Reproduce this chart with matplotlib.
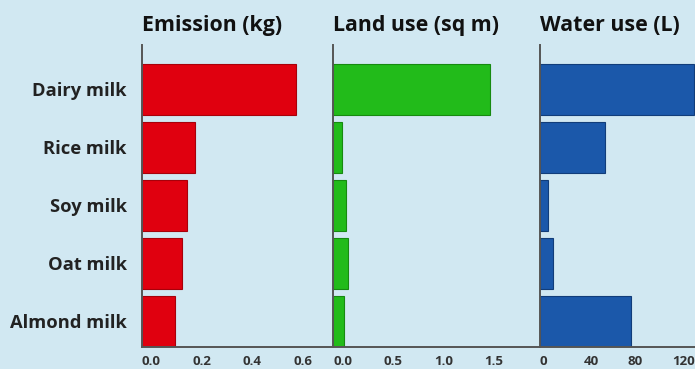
import matplotlib
matplotlib.use("Agg")
import matplotlib.pyplot as plt

# Environmental footprint of one glass of milk
categories = ["Dairy milk", "Rice milk", "Soy milk", "Oat milk", "Almond milk"]
emission_kg = [0.61, 0.21, 0.18, 0.16, 0.13]
land_sqm = [1.55, 0.09, 0.13, 0.15, 0.11]
water_l = [140, 59, 7, 12, 83]

titles = ["Emission (kg)", "Land use (sq m)", "Water use (L)"]
emission_ticks = [0.0, 0.2, 0.4, 0.6]
land_ticks = [0.0, 0.5, 1.0, 1.5]
water_ticks = [0, 40, 80, 120]
emission_ticklabels = ["0.0", "0.2", "0.4", "0.6"]
land_ticklabels = ["0.0", "0.5", "1.0", "1.5"]
water_ticklabels = ["0", "40", "80", "120"]

BG = "#d1e8f2"
FONT = ["Open Sans", "DejaVu Sans"]
W, H = 695, 369

fig = plt.figure(figsize=(W / 100, H / 100), dpi=100, facecolor=BG)

# panel edges in pixels (left, right)
panels = [(142, 333), (333, 540), (540, 695)]
top_px, bottom_px = 45, 346.7

series = [
    (emission_kg, "#e0000f", "#a8000a", emission_ticks, emission_ticklabels, 0.758),
    (land_sqm, "#22bb1a", "#178a10", land_ticks, land_ticklabels, 2.05),
    (water_l, "#1b58aa", "#113d7a", water_ticks, water_ticklabels, 141),
]

ypos = list(range(len(categories)))[::-1]

for i, ((l, r), (vals, col, ecol, ticks, tlabels, xmax)) in enumerate(zip(panels, series)):
    ax = fig.add_axes([l / W, (H - bottom_px) / H, (r - l) / W, (bottom_px - top_px) / H])
    ax.set_facecolor("none")
    ax.barh(ypos, vals, height=0.88, color=col, edgecolor=ecol, linewidth=0.8, zorder=2)
    ax.set_xlim(0, xmax)
    ax.set_ylim(-0.44, 4.76)
    for s in ["top", "right"]:
        ax.spines[s].set_visible(False)
    for s in ["left", "bottom"]:
        ax.spines[s].set_color("#555555")
        ax.spines[s].set_linewidth(1.4)
        ax.spines[s].set_zorder(3)
    ax.set_xticks(ticks)
    ax.set_xticklabels(tlabels, fontsize=9.5, fontweight="bold", color="#333333", family=FONT)
    for lab in ax.get_xticklabels():
        lab.set_horizontalalignment("left")
    ax.tick_params(axis="x", length=0, pad=6)
    if i == 0:
        ax.set_yticks(ypos)
        ax.set_yticklabels(categories, fontsize=13.2, fontweight="bold", color="#222222", family=FONT)
        ax.tick_params(axis="y", length=0, pad=11)
    else:
        ax.set_yticks([])
    fig.text(l / W, (H - 31) / H, titles[i], fontsize=15.4, fontweight="bold",
             color="#111111", family=FONT, ha="left", va="baseline")

fig.savefig("out.png", dpi=100, facecolor=BG)
